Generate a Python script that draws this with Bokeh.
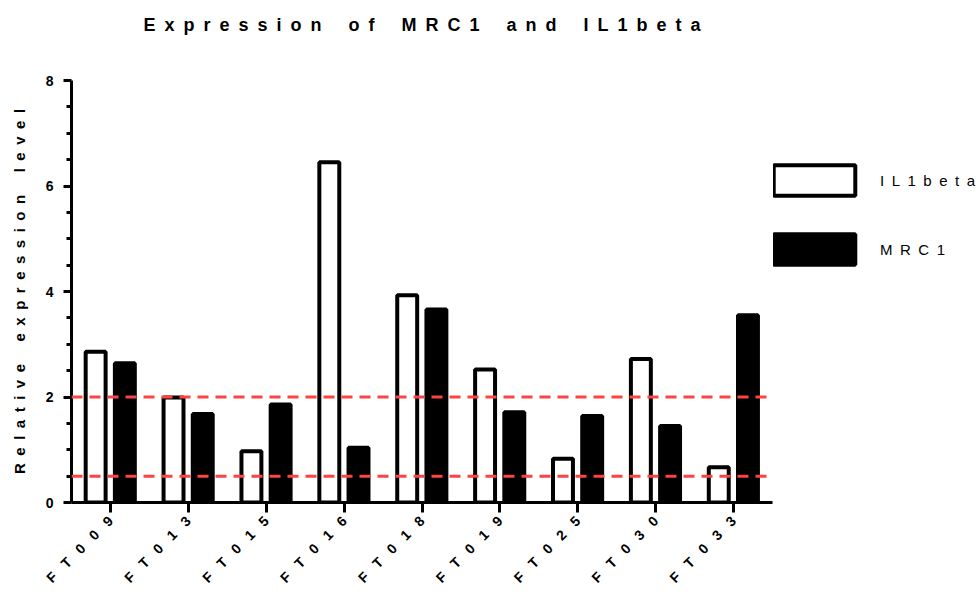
from bokeh.plotting import figure
from bokeh.layouts import row, column
from bokeh.models import (ColumnDataSource, FactorRange, Range1d, FixedTicker, Span,
                          Legend, LegendItem)
from bokeh.transform import dodge
from bokeh.embed import file_html
from bokeh.resources import INLINE

# ---- data ----
samples = ["FT009", "FT013", "FT015", "FT016", "FT018", "FT019", "FT025", "FT030", "FT033"]
il1beta = [2.86, 1.99, 0.97, 6.45, 3.93, 2.52, 0.83, 2.72, 0.67]
mrc1 = [2.64, 1.68, 1.86, 1.04, 3.66, 1.71, 1.64, 1.45, 3.55]
thresholds = [0.5, 2.0]
y_ticks = [0, 2, 4, 6, 8]
y_minor = [0.5, 1, 1.5, 2.5, 3, 3.5, 4.5, 5, 5.5, 6.5, 7, 7.5]
series_names = ["IL1beta", "MRC1"]

title_text = "Expression of MRC1 and IL1beta"
y_label = "Relative expression level"

EN = "\u2002"


def spaced(s, gap=EN):
    return (gap * 3).join(gap.join(w) for w in s.split(" "))


FONT = "Liberation Sans"
BLACK = "#000000"
factors = [spaced(s, "\u2002\u2004") for s in samples]
src = ColumnDataSource(dict(x=factors, il1=il1beta, mrc=mrc1))

W1, W2 = 773, 203
HT, HP = 50, 545
ML, MR = 71, 1
MT = 80 - HT
MB = HP - (502 - HT)

# ---- title strip ----
t = figure(width=W1 + W2, height=HT, x_range=Range1d(0, 1), y_range=Range1d(0, 1),
           output_backend="svg", toolbar_location=None,
           x_axis_location=None, y_axis_location=None,
           min_border_left=ML, min_border_right=MR + W2, min_border_top=39, min_border_bottom=0)
t.outline_line_color = None
t.xgrid.grid_line_color = None
t.ygrid.grid_line_color = None
t.title.text = spaced(title_text)
t.title.align = "center"
t.title.text_font = FONT
t.title.text_font_style = "bold"
t.title.text_font_size = "18px"
t.title.text_color = BLACK

# ---- main plot ----
p = figure(width=W1, height=HP, x_range=FactorRange(*factors), y_range=Range1d(0, 8),
           output_backend="svg", toolbar_location=None,
           min_border_left=ML, min_border_right=MR, min_border_top=MT, min_border_bottom=MB)
p.outline_line_color = None
p.xgrid.grid_line_color = None
p.ygrid.grid_line_color = None

il1_style = dict(fill_color="white", line_color="black", line_width=4)
mrc_style = dict(fill_color="black", line_color="black", line_width=4)

p.vbar(x=dodge("x", -0.19, range=p.x_range), top="il1", width=0.256, source=src, **il1_style)
p.vbar(x=dodge("x", 0.185, range=p.x_range), top="mrc", width=0.256, source=src, **mrc_style)

for th in thresholds:
    p.add_layout(Span(location=th, dimension="width", line_color="#ff4242",
                      line_width=3, line_dash="11 7"))

ya = p.yaxis[0]
ya.ticker = FixedTicker(ticks=y_ticks, minor_ticks=y_minor)
ya.axis_line_width = 3
ya.major_tick_line_width = 3
ya.minor_tick_line_width = 3
ya.major_tick_in = 0
ya.major_tick_out = 8
ya.minor_tick_in = 0
ya.minor_tick_out = 5
ya.major_label_text_font = FONT
ya.major_label_text_font_style = "bold"
ya.major_label_text_font_size = "14px"
ya.major_label_text_color = BLACK
ya.major_label_standoff = 10
ya.axis_label = spaced(y_label)
ya.axis_label_text_font = FONT
ya.axis_label_text_font_style = "bold"
ya.axis_label_text_font_size = "15px"
ya.axis_label_text_color = BLACK
ya.axis_label_standoff = 15

xa = p.xaxis[0]
xa.axis_line_width = 3
xa.major_tick_line_width = 3
xa.major_tick_in = 0
xa.major_tick_out = 10
xa.minor_tick_line_color = None
xa.major_label_orientation = 0.785398
xa.major_label_text_font = FONT
xa.major_label_text_font_style = "bold"
xa.major_label_text_font_size = "14px"
xa.major_label_text_color = BLACK
xa.major_label_standoff = 6

# ---- legend panel to the right of the plot frame ----
q = figure(width=W2, height=HP, x_range=Range1d(0, 1), y_range=Range1d(0, 1),
           output_backend="svg", toolbar_location=None,
           x_axis_location=None, y_axis_location=None,
           min_border_left=0, min_border_right=0, min_border_top=MT, min_border_bottom=MB)
q.outline_line_color = None
q.xgrid.grid_line_color = None
q.ygrid.grid_line_color = None
# legend proxies (no drawable extent)
nan = float("nan")
l1 = q.vbar(x=[0.5], bottom=[nan], top=[nan], width=0.1, **il1_style)
l2 = q.vbar(x=[0.5], bottom=[nan], top=[nan], width=0.1, **mrc_style)
legend = Legend(items=[LegendItem(label=spaced(series_names[0]), renderers=[l1]),
                       LegendItem(label=spaced(series_names[1]), renderers=[l2])],
                location=(-10, 234), glyph_width=102, glyph_height=38, spacing=31,
                label_standoff=15, padding=0, margin=0,
                label_text_font=FONT, label_text_font_size="15px", label_text_color=BLACK,
                border_line_color=None, background_fill_alpha=0)
q.add_layout(legend, "center")

layout = column(t, row(p, q))
open("out.html", "w").write(file_html(layout, INLINE))
